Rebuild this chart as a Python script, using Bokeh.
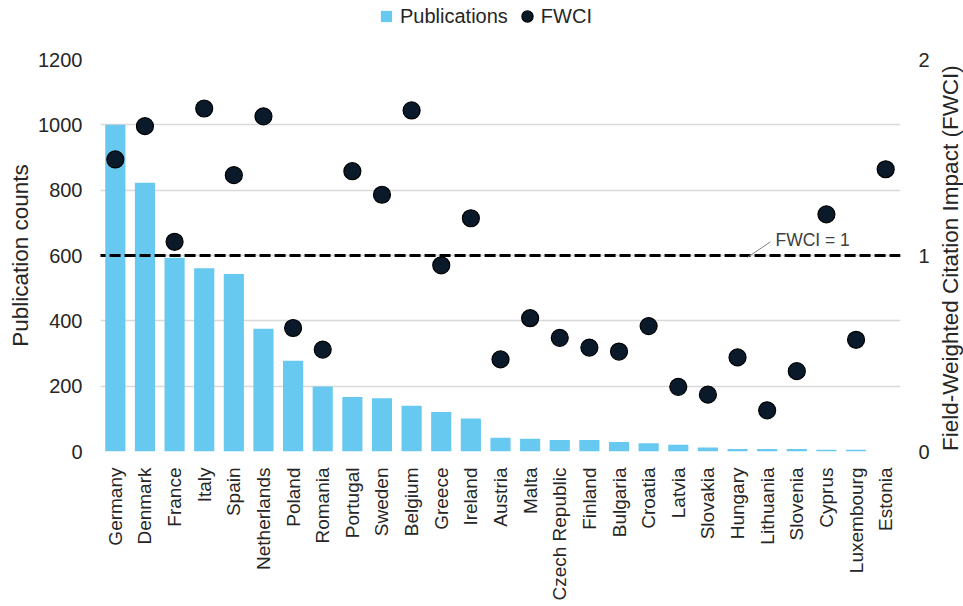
import math
from bokeh.plotting import figure
from bokeh.layouts import column, row
from bokeh.models import (ColumnDataSource, Range1d, LinearAxis, Legend, LegendItem,
                          Label, Arrow)
from bokeh.embed import file_html
from bokeh.resources import INLINE

# ---------------- data ----------------
countries = ["Germany", "Denmark", "France", "Italy", "Spain", "Netherlands", "Poland",
             "Romania", "Portugal", "Sweden", "Belgium", "Greece", "Ireland", "Austria",
             "Malta", "Czech Republic", "Finland", "Bulgaria", "Croatia", "Latvia",
             "Slovakia", "Hungary", "Lithuania", "Slovenia", "Cyprus", "Luxembourg", "Estonia"]
publications = [1000, 823, 593, 561, 543, 376, 278, 199, 167, 163, 140, 121, 101, 42,
                39, 35, 35, 29, 25, 21, 12, 8, 8, 8, 5, 5, 0]
fwci = [1.49, 1.66, 1.07, 1.75, 1.41, 1.71, 0.63, 0.52, 1.43, 1.31, 1.74, 0.95, 1.19,
        0.47, 0.68, 0.58, 0.53, 0.51, 0.64, 0.33, 0.29, 0.48, 0.21, 0.41, 1.21, 0.57, 1.44]
count_ticks = [0, 200, 400, 600, 800, 1000, 1200]
fwci_ticks = [0, 1, 2]
fwci_reference = 1.0
legend_labels = ["Publications", "FWCI"]
left_title = "Publication counts"
right_title = "Field-Weighted Citation Impact (FWCI)"
ref_label = "FWCI = 1"

FONT = "Liberation Sans"
TEXT = "#262626"
BAR = "#68C9F0"
DOT = "#0B1A2B"

LEG_H = 32
MAIN_W, MAIN_H = 935, 606 - LEG_H
TITLE_W = 963 - MAIN_W

src = ColumnDataSource(dict(country=countries, pubs=publications, fwci=fwci))

# ---------------- main chart ----------------
p = figure(x_range=countries, y_range=Range1d(0, 1200), width=MAIN_W, height=MAIN_H,
           output_backend="svg", toolbar_location=None,
           min_border_left=100, min_border_right=35, min_border_top=27, min_border_bottom=155)
p.extra_y_ranges = {"fwci": Range1d(0, 2)}
p.outline_line_color = None
p.background_fill_color = "white"
p.border_fill_color = "white"

p.xgrid.grid_line_color = None
p.ygrid.grid_line_color = "#D9D9D9"
p.ygrid.grid_line_width = 1.5

ya = p.yaxis[0]
ya.ticker = count_ticks
ya.axis_line_color = None
ya.major_tick_line_color = None
ya.minor_tick_line_color = None
ya.major_label_text_font = FONT
ya.major_label_text_font_size = "20px"
ya.major_label_text_color = TEXT
ya.major_label_standoff = 12
ya.axis_label = left_title
ya.axis_label_text_font = FONT
ya.axis_label_text_font_size = "22.5px"
ya.axis_label_text_font_style = "normal"
ya.axis_label_text_color = TEXT
ya.axis_label_standoff = 2

xa = p.xaxis[0]
xa.major_label_orientation = math.pi / 2
xa.major_label_text_font = FONT
xa.major_label_text_font_size = "19px"
xa.major_label_text_color = TEXT
xa.major_label_standoff = 10
xa.axis_line_color = None
xa.major_tick_line_color = None
xa.minor_tick_line_color = None

ra = LinearAxis(y_range_name="fwci", ticker=fwci_ticks)
ra.axis_line_color = None
ra.major_tick_line_color = None
ra.minor_tick_line_color = None
ra.major_label_text_font = FONT
ra.major_label_text_font_size = "20px"
ra.major_label_text_color = TEXT
ra.major_label_standoff = 12
p.add_layout(ra, "right")

p.vbar(x="country", top="pubs", bottom=0, width=0.68, source=src,
       fill_color=BAR, line_color=None)

p.add_layout(Arrow(end=None, x_start=-0.2, y_start=fwci_reference, x_end=27.45,
                   y_end=fwci_reference, y_range_name="fwci", line_color="black",
                   line_width=3, line_dash="11 4"))

p.scatter(x="country", y="fwci", source=src, y_range_name="fwci", size=17,
          fill_color=DOT, line_color="black", line_width=1.2)

p.add_layout(Arrow(end=None, x_start=21.83, y_start=0.99, x_end=22.61, y_end=1.07,
                   y_range_name="fwci", line_color="#7F7F7F", line_width=1))
p.add_layout(Label(x=22.78, y=1.077, y_range_name="fwci", text=ref_label,
                   text_font=FONT, text_font_size="17.5px", text_color="#404040",
                   text_align="left", text_baseline="middle"))

# ---------------- legend strip ----------------
lf = figure(width=963, height=LEG_H, x_range=Range1d(0, 963), y_range=Range1d(0, LEG_H),
            x_axis_type=None, y_axis_type=None, output_backend="svg", toolbar_location=None,
            min_border=0)
lf.outline_line_color = None
lf.grid.visible = False
# legend-only renderers: one point each, placed outside the visible range
sq = lf.scatter(x=[-1000], y=[-1000], marker="square", fill_color=BAR, line_color=None)
dt = lf.scatter(x=[-1000], y=[-1000], marker="circle", fill_color=DOT,
                line_color="black", line_width=1.2)
legend = Legend(items=[LegendItem(label=legend_labels[0], renderers=[sq]),
                       LegendItem(label=legend_labels[1], renderers=[dt])],
                orientation="horizontal", location=(372, 2),
                glyph_width=28, glyph_height=28, label_standoff=0, spacing=5,
                padding=0, margin=0, border_line_color=None, background_fill_alpha=0,
                label_text_font=FONT, label_text_font_size="20px", label_text_color=TEXT)
lf.add_layout(legend)

# ---------------- right axis title strip (frame aligns with main frame) ----------------
tf = figure(width=TITLE_W, height=MAIN_H, x_range=Range1d(0, TITLE_W), y_range=Range1d(0, 1200),
            x_axis_type=None, y_axis_type=None, output_backend="svg", toolbar_location=None,
            min_border=0)
tf.outline_line_color = None
tf.grid.visible = False
tf.add_layout(Label(x=15, y=592, text=right_title, angle=math.pi / 2,
                    text_align="center", text_baseline="middle",
                    text_font=FONT, text_font_size="22.5px", text_color=TEXT))

layout = column(lf, row(p, tf, spacing=0), spacing=0)

open("out.html", "w").write(file_html(layout, INLINE))
